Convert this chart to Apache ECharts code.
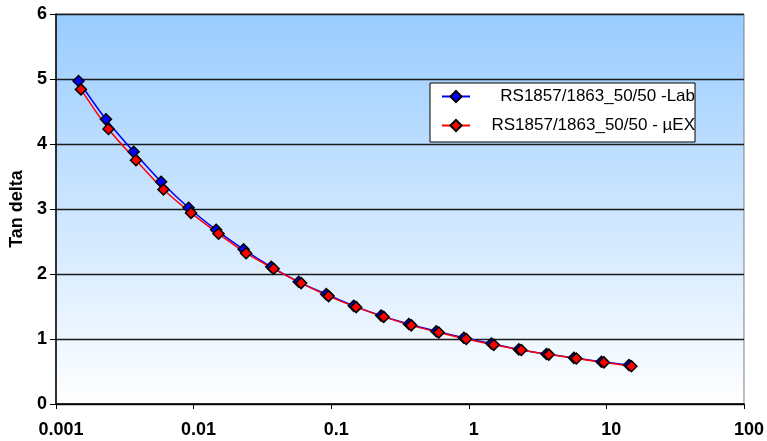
<!DOCTYPE html>
<html>
<head>
<meta charset="utf-8">
<script src="https://cdn.jsdelivr.net/npm/echarts@6/dist/echarts.min.js"></script>
<style>
  html, body { margin: 0; padding: 0; background: #ffffff; }
  #chart { width: 767px; height: 441px; }
</style>
</head>
<body>
<div id="chart"></div>
<script>
  // frequency values (x, log scale)
  var labFreq = [0.00146, 0.00231, 0.00367, 0.00581, 0.00921, 0.0146, 0.0231, 0.0367, 0.0581, 0.0921,
    0.146, 0.231, 0.367, 0.581, 0.921, 1.46, 2.31, 3.67, 5.81, 9.21, 14.6]
  var labTan = [4.97, 4.38, 3.88, 3.42, 3.02, 2.68, 2.38, 2.11, 1.88, 1.69,
    1.51, 1.36, 1.23, 1.12, 1.02, 0.93, 0.84, 0.77, 0.71, 0.65, 0.60]

  var uexFreq = [0.00152, 0.00241, 0.00382, 0.00605, 0.00959, 0.0152, 0.0241, 0.0382, 0.0605, 0.0959,
    0.152, 0.241, 0.382, 0.605, 0.959, 1.52, 2.41, 3.82, 6.05, 9.59, 15.2]
  var uexTan = [4.84, 4.23, 3.75, 3.30, 2.94, 2.62, 2.32, 2.08, 1.86, 1.66,
    1.49, 1.34, 1.21, 1.10, 1.00, 0.91, 0.83, 0.76, 0.70, 0.64, 0.58]

  var seriesNames = ['RS1857/1863_50/50 -Lab', 'RS1857/1863_50/50 - µEX']
  var xTickLabels = ['0.001', '0.01', '0.1', '1', '10', '100']

  var font = 'Arial, "Liberation Sans", sans-serif'

  function pairs(xs, ys) {
    var out = []
    xs.forEach(function (x, i) {
      out.push([x, ys[i]])
    })
    return out
  }

  function makeSeries(name, data, color) {
    return {
      type: 'line',
      name: name,
      data: data,
      smooth: 0.3,
      symbol: 'diamond',
      symbolSize: 11,
      lineStyle: {color: color, width: 1.5},
      itemStyle: {color: color, borderColor: '#000', borderWidth: 1.5},
      emphasis: {disabled: true}
    }
  }

  var chart = echarts.init(document.getElementById('chart'), null, {renderer: 'canvas'})
  chart.setOption({
    animation: false,
    grid: {
      left: 55,
      right: 21,
      top: 14,
      bottom: 37,
      show: true,
      borderColor: '#808080',
      borderWidth: 1,
      backgroundColor: new echarts.graphic.LinearGradient(0, 0, 0, 1, [
        {offset: 0, color: '#99ccff'},
        {offset: 1, color: '#ffffff'}
      ])
    },
    legend: {
      orient: 'vertical',
      left: 430,
      top: 83,
      padding: [5, 0, 8, 11],
      itemWidth: 28,
      itemHeight: 14,
      itemGap: 12,
      backgroundColor: '#ffffff',
      borderColor: '#000',
      borderWidth: 1,
      data: seriesNames,
      formatter: function (name) {
        return '{t|' + name + '}'
      },
      textStyle: {
        rich: {
          t: {width: 220, lineHeight: 16, align: 'right', fontSize: 17, fontFamily: font, color: '#000'}
        }
      }
    },
    xAxis: {
      type: 'log',
      logBase: 10,
      min: 0.001,
      max: 100,
      axisLine: {show: true, lineStyle: {color: '#000', width: 1.5}},
      axisTick: {show: true, length: 5, lineStyle: {color: '#000', width: 1}},
      splitLine: {show: false},
      minorTick: {show: false},
      axisLabel: {
        color: '#000',
        fontSize: 18,
        fontWeight: 'bold',
        fontFamily: font,
        margin: 17,
        padding: [0, 0, 0, 10],
        formatter: function (value, index) {
          return xTickLabels[index]
        }
      }
    },
    yAxis: {
      type: 'value',
      min: 0,
      max: 6,
      interval: 1,
      name: 'Tan delta',
      nameLocation: 'middle',
      nameGap: 27,
      nameTextStyle: {color: '#000', fontSize: 18, fontWeight: 'bold', fontFamily: font},
      axisLine: {show: true, lineStyle: {color: '#000', width: 1.5}},
      axisTick: {show: true, length: 6, lineStyle: {color: '#000', width: 1}},
      splitLine: {show: true, lineStyle: {color: '#1a1a1a', width: 1.3}},
      axisLabel: {
        color: '#000',
        fontSize: 18,
        fontWeight: 'bold',
        fontFamily: font,
        margin: 9
      }
    },
    series: [
      makeSeries(seriesNames[0], pairs(labFreq, labTan), '#0000ff'),
      makeSeries(seriesNames[1], pairs(uexFreq, uexTan), '#ff0000')
    ]
  })
</script>
</body>
</html>
